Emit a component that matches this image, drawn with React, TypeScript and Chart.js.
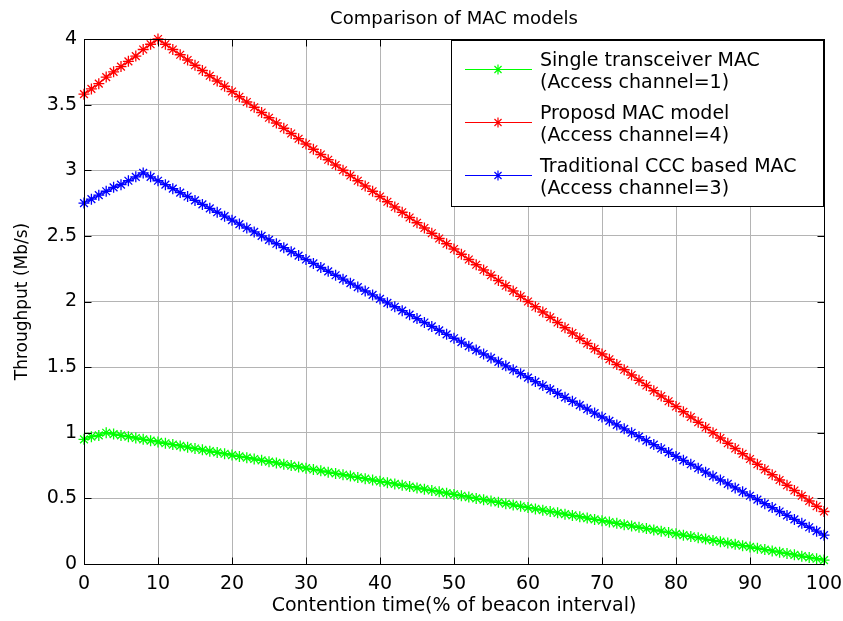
import React, { useEffect, useRef } from 'react';
import { Chart, registerables } from 'chart.js';

Chart.register(...registerables);

const chartTitle = 'Comparison of MAC models';
const xAxisTitle = 'Contention time(% of beacon interval)';
const yAxisTitle = 'Throughput (Mb/s)';

// contention time samples (% of beacon interval), one per marker
const contentionTime: number[] = Array.from({ length: 101 }, (_, i) => i);

const singleTransceiver = [
  0.95, 0.97, 0.98, 1.0, 0.99, 0.98, 0.97, 0.96, 0.95, 0.94, 0.93,
  0.92, 0.91, 0.9, 0.89, 0.88, 0.87, 0.86, 0.85, 0.84, 0.83,
  0.82, 0.81, 0.8, 0.79, 0.78, 0.77, 0.76, 0.75, 0.74, 0.73,
  0.72, 0.71, 0.7, 0.69, 0.68, 0.67, 0.66, 0.65, 0.64, 0.63,
  0.62, 0.61, 0.6, 0.59, 0.58, 0.57, 0.56, 0.55, 0.54, 0.53,
  0.52, 0.51, 0.5, 0.49, 0.48, 0.47, 0.46, 0.45, 0.44, 0.43,
  0.42, 0.41, 0.4, 0.39, 0.38, 0.37, 0.36, 0.35, 0.34, 0.33,
  0.32, 0.31, 0.3, 0.29, 0.28, 0.27, 0.26, 0.25, 0.24, 0.23,
  0.22, 0.21, 0.2, 0.19, 0.18, 0.17, 0.16, 0.15, 0.14, 0.13,
  0.12, 0.11, 0.1, 0.09, 0.08, 0.07, 0.06, 0.05, 0.04, 0.03,
];

const proposedMac = [
  3.58, 3.62, 3.66, 3.71, 3.75, 3.79, 3.83, 3.87, 3.92, 3.96, 4.0,
  3.96, 3.92, 3.88, 3.84, 3.8, 3.76, 3.72, 3.68, 3.64, 3.6,
  3.56, 3.52, 3.48, 3.44, 3.4, 3.36, 3.32, 3.28, 3.24, 3.2,
  3.16, 3.12, 3.08, 3.04, 3.0, 2.96, 2.92, 2.88, 2.84, 2.8,
  2.76, 2.72, 2.68, 2.64, 2.6, 2.56, 2.52, 2.48, 2.44, 2.4,
  2.36, 2.32, 2.28, 2.24, 2.2, 2.16, 2.12, 2.08, 2.04, 2.0,
  1.96, 1.92, 1.88, 1.84, 1.8, 1.76, 1.72, 1.68, 1.64, 1.6,
  1.56, 1.52, 1.48, 1.44, 1.4, 1.36, 1.32, 1.28, 1.24, 1.2,
  1.16, 1.12, 1.08, 1.04, 1.0, 0.96, 0.92, 0.88, 0.84, 0.8,
  0.76, 0.72, 0.68, 0.64, 0.6, 0.56, 0.52, 0.48, 0.44, 0.4,
];

const traditionalCcc = [
  2.75, 2.78, 2.81, 2.84, 2.87, 2.89, 2.92, 2.95, 2.98, 2.95, 2.92,
  2.89, 2.86, 2.83, 2.8, 2.77, 2.74, 2.71, 2.68, 2.65, 2.62,
  2.59, 2.56, 2.53, 2.5, 2.47, 2.44, 2.41, 2.38, 2.35, 2.32,
  2.29, 2.26, 2.23, 2.2, 2.17, 2.14, 2.11, 2.08, 2.05, 2.02,
  1.99, 1.96, 1.93, 1.9, 1.87, 1.84, 1.81, 1.78, 1.75, 1.72,
  1.69, 1.66, 1.63, 1.6, 1.57, 1.54, 1.51, 1.48, 1.45, 1.42,
  1.39, 1.36, 1.33, 1.3, 1.27, 1.24, 1.21, 1.18, 1.15, 1.12,
  1.09, 1.06, 1.03, 1.0, 0.97, 0.94, 0.91, 0.88, 0.85, 0.82,
  0.79, 0.76, 0.73, 0.7, 0.67, 0.64, 0.61, 0.58, 0.55, 0.52,
  0.49, 0.46, 0.43, 0.4, 0.37, 0.34, 0.31, 0.28, 0.25, 0.22,
];

const seriesLabels = [
  ['Single transceiver MAC', '(Access channel=1)'],
  ['Proposd MAC model', '(Access channel=4)'],
  ['Traditional CCC based MAC', '(Access channel=3)'],
];
const seriesColors = ['#00ff00', '#ff0000', '#0000ff'];
const seriesValues = [singleTransceiver, proposedMac, traditionalCcc];

const FONT = '"DejaVu Sans", Arial, sans-serif';

function drawStar(ctx: CanvasRenderingContext2D, x: number, y: number, r: number) {
  const d = r * Math.SQRT1_2;
  ctx.beginPath();
  ctx.moveTo(x - r, y); ctx.lineTo(x + r, y);
  ctx.moveTo(x, y - r); ctx.lineTo(x, y + r);
  ctx.moveTo(x - d, y - d); ctx.lineTo(x + d, y + d);
  ctx.moveTo(x - d, y + d); ctx.lineTo(x + d, y - d);
  ctx.stroke();
}

const framePlugin = {
  id: 'frameTicks',
  afterDatasetsDraw(chart: any) {
    const { ctx, chartArea: a, scales } = chart;
    ctx.save();
    ctx.strokeStyle = '#000';
    ctx.lineWidth = 1;
    const L = Math.round(a.left) + 0.5, R = Math.round(a.right) + 0.5;
    const T = Math.round(a.top) + 0.5, B = Math.round(a.bottom) + 0.5;
    ctx.strokeRect(L, T, R - L, B - T);
    const len = 7;
    ctx.beginPath();
    scales.x.ticks.forEach((t: any) => {
      const px = Math.round(scales.x.getPixelForValue(t.value)) + 0.5;
      ctx.moveTo(px, B); ctx.lineTo(px, B - len);
      ctx.moveTo(px, T); ctx.lineTo(px, T + len);
    });
    scales.y.ticks.forEach((t: any) => {
      const py = Math.round(scales.y.getPixelForValue(t.value)) + 0.5;
      ctx.moveTo(L, py); ctx.lineTo(L + len, py);
      ctx.moveTo(R, py); ctx.lineTo(R - len, py);
    });
    ctx.stroke();
    ctx.restore();
  },
};

const legendPlugin = {
  id: 'matlabLegend',
  afterDraw(chart: any) {
    const { ctx, chartArea: a } = chart;
    const w = 372, h = 166;
    const right = Math.round(a.right) - 1;
    const left = right - w;
    const top = Math.round(a.top) + 1;
    ctx.save();
    ctx.fillStyle = '#fff';
    ctx.fillRect(left, top, w, h);
    ctx.strokeStyle = '#000';
    ctx.lineWidth = 1;
    ctx.strokeRect(left + 0.5, top + 0.5, w, h);
    ctx.font = `19px ${FONT}`;
    ctx.textBaseline = 'middle';
    ctx.textAlign = 'left';
    seriesLabels.forEach((lines, i) => {
      const y0 = top + 21 + 53 * i;
      const sy = Math.round(top + 29 + 53 * i) + 0.5;
      ctx.strokeStyle = seriesColors[i];
      ctx.lineWidth = 1.2;
      ctx.beginPath();
      ctx.moveTo(left + 14, sy);
      ctx.lineTo(left + 81, sy);
      ctx.stroke();
      drawStar(ctx, left + 47, sy, 5);
      ctx.fillStyle = '#000';
      ctx.fillText(lines[0], left + 89, y0);
      ctx.fillText(lines[1], left + 89, y0 + 22);
    });
    ctx.restore();
  },
};

export default function App() {
  const canvasRef = useRef<HTMLCanvasElement | null>(null);

  useEffect(() => {
    if (!canvasRef.current) return;
    const datasets = seriesValues.map((vals, i) => ({
      label: seriesLabels[i].join(' '),
      data: vals.map((v, k) => ({ x: contentionTime[k], y: v })),
      borderColor: seriesColors[i],
      backgroundColor: seriesColors[i],
      borderWidth: 1.2,
      pointStyle: 'star' as const,
      pointRadius: 5.5,
      pointBorderWidth: 1.3,
      pointBorderColor: seriesColors[i],
      tension: 0,
      clip: false as any,
    }));
    const chart = new Chart(canvasRef.current, {
      type: 'line',
      data: { datasets },
      options: {
        animation: false,
        responsive: false,
        devicePixelRatio: 1,
        layout: { padding: { left: 0, right: 19, top: 0, bottom: 0 } },
        plugins: {
          legend: { display: false },
          tooltip: { enabled: false },
          title: {
            display: true,
            text: chartTitle,
            fullSize: false,
            color: '#000',
            font: { family: FONT, size: 18, weight: 'normal' },
            padding: { top: 9, bottom: 8.4 },
          },
        },
        scales: {
          x: {
            type: 'linear',
            min: 0,
            max: 100,
            ticks: {
              stepSize: 10,
              color: '#000',
              font: { family: FONT, size: 19 },
              padding: 9,
              maxRotation: 0,
              callback: (v: any) => String(v),
            },
            grid: { color: '#b4b4b4', lineWidth: 1, drawTicks: false },
            border: { display: false },
            title: {
              display: true,
              text: xAxisTitle,
              color: '#000',
              font: { family: FONT, size: 19 },
              padding: { top: 0, bottom: 4 },
            },
            afterFit: (s: any) => {
              s.height = 57;
              s.paddingLeft = 0;
              s.paddingRight = 0;
            },
          },
          y: {
            type: 'linear',
            min: 0,
            max: 4,
            ticks: {
              stepSize: 0.5,
              color: '#000',
              font: { family: FONT, size: 19 },
              padding: 7,
              callback: (v: any) => String(v),
            },
            grid: { color: '#b4b4b4', lineWidth: 1, drawTicks: false },
            border: { display: false },
            title: {
              display: true,
              text: yAxisTitle,
              color: '#000',
              font: { family: FONT, size: 17 },
              padding: { top: 12, bottom: 0 },
            },
            afterFit: (s: any) => {
              s.width = 84;
              s.paddingTop = 0;
              s.paddingBottom = 0;
            },
          },
        },
      },
      plugins: [framePlugin, legendPlugin],
    });
    return () => chart.destroy();
  }, []);

  return (
    <div style={{ position: 'fixed', left: 0, top: 0, width: 843, height: 621, background: '#fff' }}>
      <canvas ref={canvasRef} width={843} height={621} style={{ display: 'block' }} />
    </div>
  );
}
